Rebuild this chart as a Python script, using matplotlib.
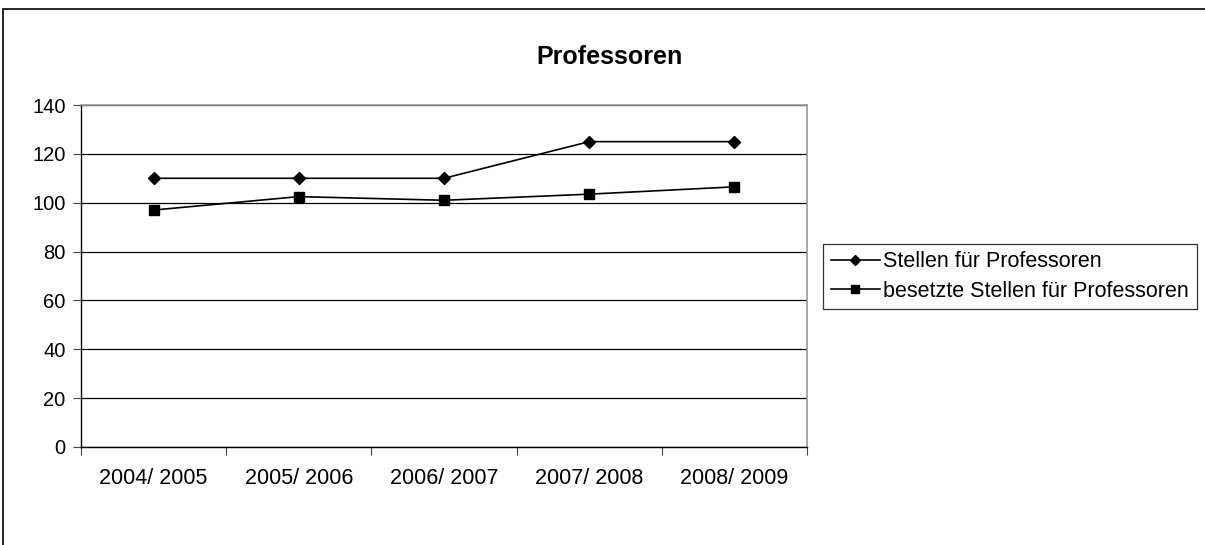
import matplotlib.pyplot as plt
from matplotlib.patches import Rectangle

years = ["2004/ 2005", "2005/ 2006", "2006/ 2007", "2007/ 2008", "2008/ 2009"]
stellen = [110, 110, 110, 125, 125]
besetzt = [97, 102.5, 101, 103.5, 106.5]

plt.rcParams["font.family"] = ["Liberation Sans", "DejaVu Sans"]

W, H = 1205, 545
fig = plt.figure(figsize=(W / 100, H / 100), dpi=100)
ax = fig.add_axes([81 / W, 1 - 447 / H, (807 - 81) / W, (447 - 105) / H])

# outer chart border (right/bottom cut off in the original)
fig.patches.append(Rectangle((3 / W, -0.1), 1.2, 1 - 9 / H + 0.1,
                             transform=fig.transFigure, fill=False,
                             edgecolor="black", linewidth=1.2))

x = list(range(len(years)))
ax.plot(x, stellen, color="black", lw=1.2, marker="D", ms=6,
        label="Stellen für Professoren")
ax.plot(x, besetzt, color="black", lw=1.2, marker="s", ms=6.5,
        label="besetzte Stellen für Professoren")

ax.set_xlim(-0.5, len(years) - 0.5)
ax.set_ylim(0, 140)
ax.set_yticks(range(0, 141, 20))
ax.yaxis.grid(True, color="black", lw=0.9)
ax.set_axisbelow(True)

fs = 15.5
ax.set_xticks([i - 0.5 for i in range(len(years) + 1)])
ax.set_xticklabels([])
ax.set_xticks(x, minor=True)
ax.set_xticklabels(years, minor=True)
ax.tick_params(axis="x", which="major", length=6, direction="out", color="#444444")
ax.tick_params(axis="x", which="minor", length=0, pad=15, labelsize=fs)
ax.tick_params(axis="y", length=6, direction="out", labelsize=14.5, pad=5,
               color="#444444")

for s in ["top", "right"]:
    ax.spines[s].set_color("#999999")
    ax.spines[s].set_linewidth(1.2)
for s in ["left", "bottom"]:
    ax.spines[s].set_color("black")
    ax.spines[s].set_linewidth(1.0)

fig.text(609 / W, 1 - 57 / H, "Professoren", ha="center", va="center",
         fontsize=18, fontweight="bold")

leg = ax.legend(loc="center left", bbox_to_anchor=(823 / W, 1 - 276.5 / H),
                bbox_transform=fig.transFigure, frameon=True, fancybox=False,
                fontsize=fs, handlelength=2.3, handletextpad=0.15,
                borderpad=0.35, labelspacing=0.4, markerscale=0.8,
                borderaxespad=0)
leg.get_frame().set_edgecolor("black")
leg.get_frame().set_linewidth(0.9)

fig.savefig("out.png", dpi=100)
